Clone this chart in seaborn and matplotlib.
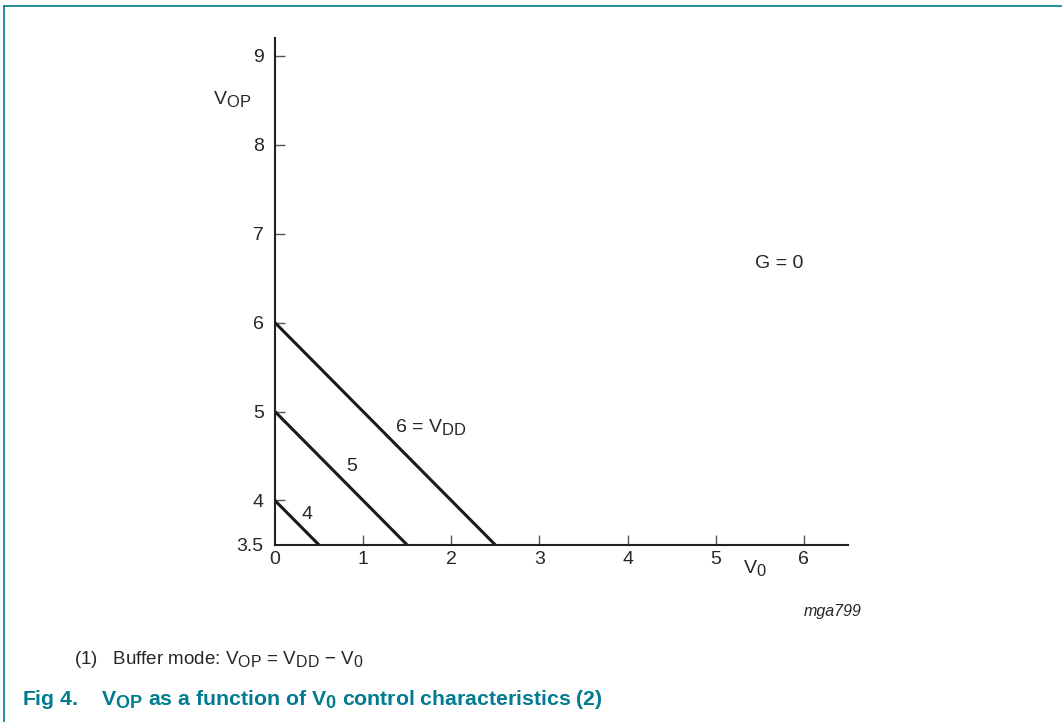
import matplotlib.pyplot as plt
import matplotlib._mathtext as mathtext_core
from matplotlib.lines import Line2D
import pandas as pd
import seaborn as sns

# curve endpoints: V0 -> VOP for each VDD
curve_names = ["6 = VDD", "5", "4"]
v0_start = [0.0, 0.0, 0.0]
v0_end = [2.5, 1.5, 0.5]
vop_start = [6.0, 5.0, 4.0]
vop_end = [3.5, 3.5, 3.5]

x_ticks = [0, 1, 2, 3, 4, 5, 6]
y_ticks = [3.5, 4, 5, 6, 7, 8, 9]
y_tick_labels = ["3.5", "4", "5", "6", "7", "8", "9"]

rows = []
for name, xs, xe, ys, ye in zip(curve_names, v0_start, v0_end, vop_start, vop_end):
    rows.append({"curve": name, "V0": xs, "VOP": ys})
    rows.append({"curve": name, "V0": xe, "VOP": ye})
df = pd.DataFrame(rows)

sns.set_style("white")
plt.rcParams["font.family"] = ["Liberation Sans", "DejaVu Sans"]
plt.rcParams["mathtext.fontset"] = "custom"
plt.rcParams["mathtext.rm"] = "Liberation Sans"
plt.rcParams["mathtext.bf"] = "Liberation Sans:bold"
# datasheet-style subscripts are only a bit smaller than the base text
mathtext_core.SHRINK_FACTOR = 0.85

teal = "#007b8f"

fig = plt.figure(figsize=(10.62, 7.22), dpi=100)
ax = fig.add_axes([0.2589, 0.2452, 0.5396, 0.7022])

sns.lineplot(data=df, x="V0", y="VOP", hue="curve", units="curve", estimator=None,
             palette=["#1a1a1a"] * 3, linewidth=2.2, legend=False, ax=ax)

ax.set_xlim(0, 6.5)
ax.set_ylim(3.5, 9.2)
ax.set_xticks(x_ticks)
ax.set_yticks(y_ticks)
ax.set_yticklabels(y_tick_labels)
ax.set_xlabel("")
ax.set_ylabel("")
ax.tick_params(bottom=True, left=True, direction="in", length=7.5, width=1,
               color="#555555", labelsize=14, pad=4)
ax.tick_params(axis="y", pad=8)
for s in ["top", "right"]:
    ax.spines[s].set_visible(False)
for s in ["left", "bottom"]:
    ax.spines[s].set_linewidth(1.5)
    ax.spines[s].set_color("#222222")
# no tick drawn at the corner
ax.xaxis.get_major_ticks()[0].tick1line.set_visible(False)
ax.yaxis.get_major_ticks()[0].tick1line.set_visible(False)

# curve labels
ax.text(1.36, 4.82, r"6 = V$_{\mathregular{DD}}$", fontsize=14, ha="left", va="center")
ax.text(0.87, 4.38, "5", fontsize=14, ha="center", va="center")
ax.text(0.36, 3.84, "4", fontsize=14, ha="center", va="center")
ax.text(5.72, 6.67, "G = 0", fontsize=14, ha="center", va="center")

# axis titles
ax.text(-0.49, 8.5, r"V$_{\mathregular{OP}}$", fontsize=14, ha="center", va="center")
ax.text(5.44, -0.048, r"V$_{\mathregular{0}}$", fontsize=14, ha="center", va="center",
        transform=ax.get_xaxis_transform())
ax.text(6.65, -0.132, "mga799", fontsize=11.5, style="italic", ha="right", va="center",
        transform=ax.get_xaxis_transform())

# footnote and caption
fig.text(0.07, 0.086, r"(1)   Buffer mode: V$_{\mathregular{OP}}$ = V$_{\mathregular{DD}}$ $-$ V$_{\mathregular{0}}$",
         fontsize=13.5, ha="left", va="center")
fig.text(0.021, 0.031,
         r"Fig 4.    V$_{\mathbf{OP}}$ as a function of V$_{\mathbf{0}}$ control characteristics (2)",
         fontsize=15.3, fontweight="bold", color=teal, ha="left", va="center")

# page frame
fig.add_artist(Line2D([0.004, 1.0], [0.9917, 0.9917], color=teal, linewidth=1.2,
                      transform=fig.transFigure))
fig.add_artist(Line2D([0.004, 0.004], [0.0, 0.9917], color=teal, linewidth=1.2,
                      transform=fig.transFigure))

fig.savefig("out.png", dpi=100)
